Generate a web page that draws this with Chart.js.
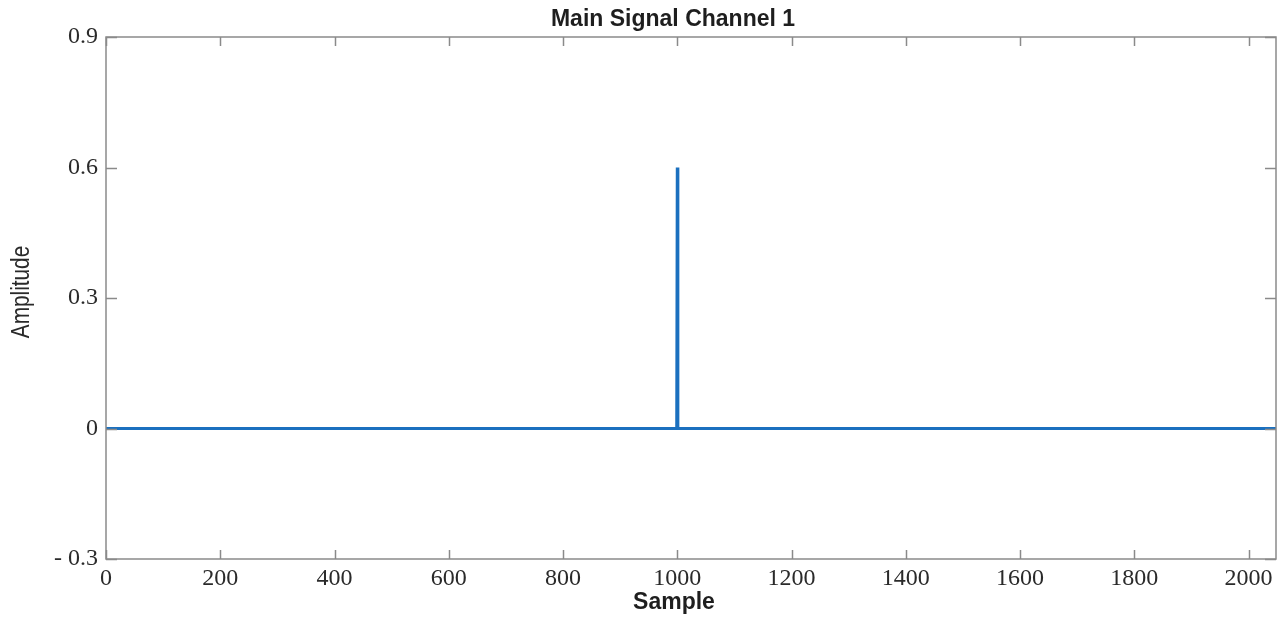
<!DOCTYPE html>
<html>
<head>
<meta charset="utf-8">
<script src="https://cdn.jsdelivr.net/npm/chart.js@4/dist/chart.umd.min.js"></script>
<style>
  html, body { margin: 0; padding: 0; background: #ffffff; }
  #wrap { width: 1279px; height: 617px; position: relative; }
</style>
</head>
<body>
<div id="wrap"><canvas id="c" width="1279" height="617"></canvas></div>
<script>
// ---- data ----
const sampleIdx = [0, 999, 1000, 1001, 2048];
const amplitude = [0, 0, 0.6, 0, 0];
const xTickValues = [0, 200, 400, 600, 800, 1000, 1200, 1400, 1600, 1800, 2000];
const xTickLabels = ['0', '200', '400', '600', '800', '1000', '1200', '1400', '1600', '1800', '2000'];
const yTickValues = [-0.3, 0, 0.3, 0.6, 0.9];
const yTickLabels = ['- 0.3', '0', '0.3', '0.6', '0.9'];
const titleText = 'Main Signal Channel 1';
const xTitle = 'Sample';
const yTitle = 'Amplitude';

const points = sampleIdx.map((s, i) => ({ x: s, y: amplitude[i] }));

const frameColor = '#8a8a8a';

const boxTicks = {
  id: 'boxTicks',
  afterDraw(chart) {
    const { ctx, chartArea: a, scales } = chart;
    ctx.save();
    ctx.strokeStyle = frameColor;
    ctx.lineWidth = 1.5;
    ctx.beginPath();
    xTickValues.forEach(v => {
      const px = Math.round(scales.x.getPixelForValue(v)) + 0.5;
      ctx.moveTo(px, a.bottom); ctx.lineTo(px, a.bottom - 9);
      ctx.moveTo(px, a.top); ctx.lineTo(px, a.top + 9);
    });
    yTickValues.forEach(v => {
      const py = Math.round(scales.y.getPixelForValue(v)) + 0.5;
      ctx.moveTo(a.left, py); ctx.lineTo(a.left + 11, py);
      ctx.moveTo(a.right, py); ctx.lineTo(a.right - 11, py);
    });
    ctx.stroke();
    ctx.strokeRect(a.left, a.top, a.right - a.left, a.bottom - a.top);

    // titles
    ctx.fillStyle = '#1e1e1e';
    ctx.textAlign = 'center';
    ctx.textBaseline = 'middle';
    ctx.font = 'bold 23px "Liberation Sans", Arial, sans-serif';
    ctx.fillText(titleText, 673, 20);
    ctx.font = 'bold 23px "Liberation Sans", Arial, sans-serif';
    ctx.fillText(xTitle, 674, 603);
    ctx.translate(22, 292);
    ctx.rotate(-Math.PI / 2);
    ctx.scale(0.8, 1);
    ctx.font = '26px "Liberation Sans", Arial, sans-serif';
    ctx.fillStyle = '#2a2a2a';
    ctx.fillText(yTitle, 0, 0);
    ctx.restore();
  }
};

new Chart(document.getElementById('c'), {
  type: 'line',
  data: {
    datasets: [{
      data: points,
      borderColor: '#1b70bf',
      borderWidth: 3,
      pointRadius: 0,
      tension: 0,
      fill: false
    }]
  },
  options: {
    responsive: false,
    animation: false,
    events: [],
    layout: { padding: { left: 0, right: 3, top: 37, bottom: 0 } },
    plugins: { legend: { display: false }, tooltip: { enabled: false }, title: { display: false } },
    scales: {
      x: {
        type: 'linear',
        min: 0, max: 2048,
        afterFit(s) { s.height = 58; },
        afterBuildTicks(s) { s.ticks = xTickValues.map(v => ({ value: v })); },
        grid: { display: false, drawTicks: false },
        border: { display: false },
        ticks: {
          padding: 5,
          color: '#2a2a2a',
          font: { family: '"Liberation Serif", "Times New Roman", serif', size: 24 },
          maxRotation: 0,
          autoSkip: false,
          callback: (v) => xTickLabels[xTickValues.indexOf(v)]
        }
      },
      y: {
        type: 'linear',
        min: -0.3, max: 0.9,
        afterFit(s) { s.width = 106; },
        afterBuildTicks(s) { s.ticks = yTickValues.map(v => ({ value: v })); },
        grid: { display: false, drawTicks: false },
        border: { display: false },
        ticks: {
          padding: 8,
          color: '#2a2a2a',
          font: { family: '"Liberation Serif", "Times New Roman", serif', size: 24 },
          autoSkip: false,
          callback: (v) => yTickLabels[yTickValues.indexOf(v)]
        }
      }
    }
  },
  plugins: [boxTicks]
});
</script>
</body>
</html>
